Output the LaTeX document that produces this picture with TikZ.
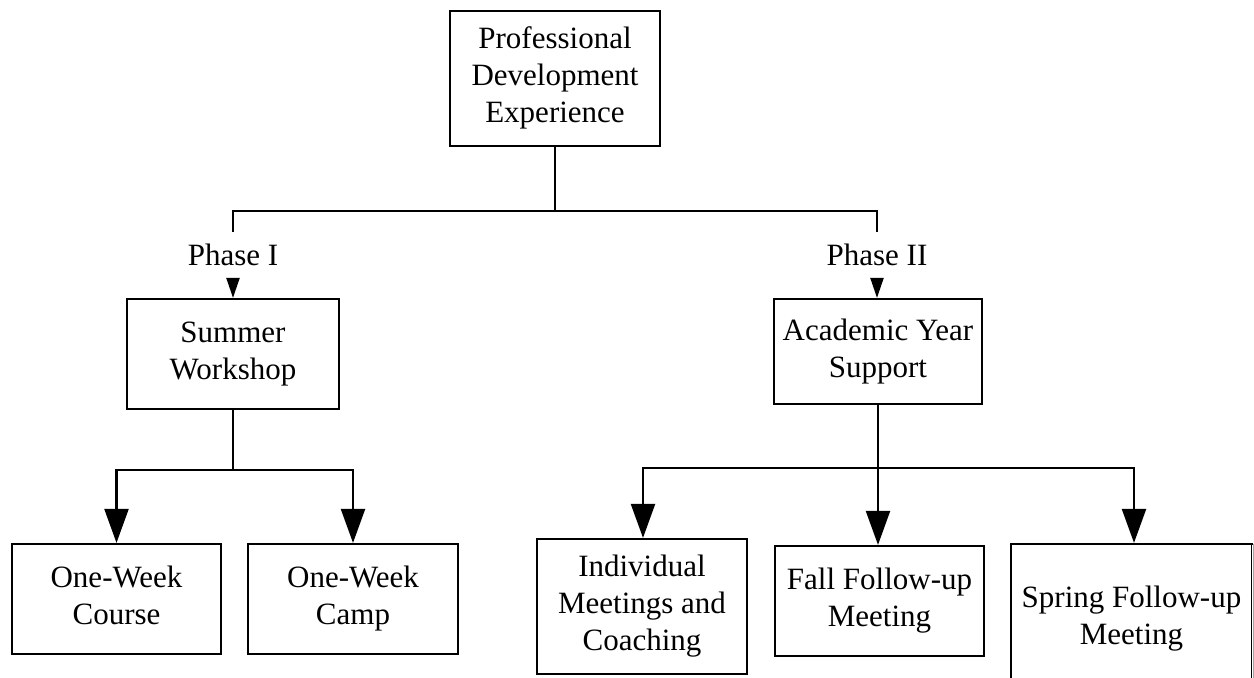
\documentclass[tikz,border=0pt]{standalone}
\usepackage{fontspec}
\setmainfont{Liberation Serif}
\usetikzlibrary{arrows.meta}
\newcommand{\diagfont}{\fontsize{15.5pt}{18.5pt}\selectfont}
\tikzset{
  box/.style={draw, line width=1.1pt, inner sep=0pt, align=center, font=\diagfont},
  lbl/.style={inner sep=0pt, align=center, font=\diagfont},
  conn/.style={line width=1.1pt},
  bigarrow/.style={conn, -{Triangle[length=17pt,width=12pt]}},
  smallarrow/.style={conn, -{Triangle[length=10pt,width=6.5pt]}}
}
\begin{document}
\begin{tikzpicture}[x=0.5pt,y=-0.5pt]
\useasboundingbox (0,0) rectangle (1254,677);
\fill[white] (0,0) rectangle (1254,677);
% boxes
\node[box, minimum width=105pt, minimum height=67.5pt] (top) at (555,78.5) {\strut Professional\\\strut Development\\\strut Experience};
\node[box, minimum width=106pt, minimum height=55pt] (summer) at (233,354) {\strut Summer\\\strut Workshop};
\node[box, minimum width=104pt, minimum height=52.5pt] (academic) at (878,351.5) {\strut Academic Year\\\strut Support};
\node[box, minimum width=104.5pt, minimum height=55pt] (course) at (116.5,599) {\strut One-Week\\\strut Course};
\node[box, minimum width=105pt, minimum height=55pt] (camp) at (353,599) {\strut One-Week\\\strut Camp};
\node[box, minimum width=105pt, minimum height=67.5pt] (indiv) at (642,606.5) {\strut Individual\\\strut Meetings and\\\strut Coaching};
\node[box, minimum width=104.5pt, minimum height=55pt] (fall) at (879.5,601) {\strut Fall Follow-up\\\strut Meeting};
\node[box, minimum width=120.5pt, minimum height=75pt] (spring) at (1131.5,619) {\strut Spring Follow-up\\\strut Meeting};
\draw[white, line width=1.6pt] ([yshift=-1pt]spring.north east) -- (spring.south east);
\draw[black!35, line width=0.5pt] ([yshift=-0.5pt]spring.north east) -- (spring.south east);
% phase labels
\node[lbl] (ph1) at (233,255) {Phase I};
\node[lbl] (ph2) at (877,255) {Phase II};
% coordinates
\coordinate (h0) at (555,211);
\coordinate (l1) at (233,232);
\coordinate (l2) at (877,232);
\coordinate (a1) at (233,278);
\coordinate (a2) at (877,278);
\coordinate (j1) at (233,470);
\coordinate (j2) at (878,468);
% top connectors
\draw[conn] (top.south) -- (h0);
\draw[conn] (l1) |- (h0) -| (l2);
\draw[smallarrow] (a1) -- (summer.north);
\draw[smallarrow] (a2) -- (a2 |- academic.north);
% summer branch
\draw[conn] (summer.south) -- (j1);
\draw[bigarrow] (j1) -| (course.north);
\draw[bigarrow] (j1) -| (camp.north);
% academic branch
\draw[conn] (academic.south) -- (j2);
\draw[bigarrow] (j2) -| ([xshift=0.5pt]indiv.north);
\draw[bigarrow] (j2) -- (j2 |- fall.north);
\draw[bigarrow] (j2) -| ([xshift=1.25pt]spring.north);
\end{tikzpicture}
\end{document}
